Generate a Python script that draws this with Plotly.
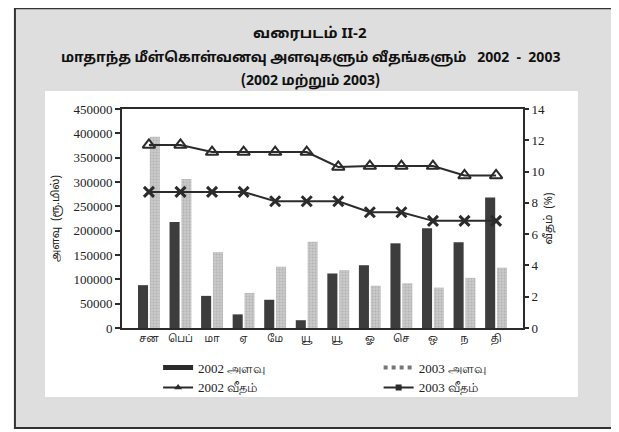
import plotly.graph_objects as go

months = ["சன", "பெப்", "மா", "ஏ", "மே", "யூ", "யூ ", "ஓ", "செ", "ஒ", "ந", "தி"]
vol_2002 = [88000, 218000, 66000, 28000, 58000, 16000, 112000, 129000, 174000, 205000, 176000, 268000]
vol_2003 = [393000, 306000, 156000, 72000, 126000, 177000, 119000, 87000, 92000, 83000, 103000, 124000]
rate_2002 = [11.7, 11.7, 11.25, 11.25, 11.25, 11.25, 10.3, 10.35, 10.35, 10.35, 9.75, 9.75]
rate_2003 = [8.7, 8.7, 8.7, 8.7, 8.1, 8.1, 8.1, 7.4, 7.4, 6.85, 6.85, 6.85]
left_ticks = list(range(0, 450001, 50000))
right_ticks = list(range(0, 15, 2))

SERIF = "Liberation Serif"
TAMIL = "Noto Sans Tamil, Noto Serif Tamil, Lohit Tamil, Latha, sans-serif"
DARK = "#2b2b2b"

fig = go.Figure()
fig.add_trace(go.Bar(x=months, y=vol_2002, marker=dict(color="#3d3d3d", line=dict(width=0)),
                     showlegend=False, name="2002 அளவு"))
fig.add_trace(go.Bar(x=months, y=vol_2003,
                     marker=dict(color="#c9c9c9", line=dict(width=0),
                                 pattern=dict(shape=".", fgcolor="#9c9c9c", size=3, solidity=0.3)),
                     showlegend=False, name="2003 அளவு"))
fig.add_trace(go.Scatter(x=months, y=rate_2002, yaxis="y2", mode="lines+markers",
                         line=dict(color=DARK, width=2),
                         marker=dict(symbol="triangle-up-open", size=11, color=DARK, line=dict(width=2)),
                         showlegend=False))
fig.add_trace(go.Scatter(x=months, y=rate_2003, yaxis="y2", mode="lines+markers",
                         line=dict(color=DARK, width=2),
                         marker=dict(symbol="x-thin-open", size=10, color=DARK, line=dict(width=3, color=DARK)),
                         showlegend=False))

# legend-only entries (line style keys as in the original)
fig.add_trace(go.Scatter(x=[None], y=[None], mode="lines", name="2002 அளவு", legend="legend",
                         line=dict(color=DARK, width=5)))
fig.add_trace(go.Scatter(x=[None], y=[None], yaxis="y2", mode="lines+markers", name="2002 வீதம்",
                         legend="legend", line=dict(color=DARK, width=2),
                         marker=dict(symbol="triangle-up", size=7, color=DARK)))
fig.add_trace(go.Scatter(x=[None], y=[None], mode="lines", name="2003 அளவு", legend="legend2",
                         line=dict(color="#777777", width=4, dash="dot")))
fig.add_trace(go.Scatter(x=[None], y=[None], yaxis="y2", mode="lines+markers", name="2003 வீதம்",
                         legend="legend2", line=dict(color=DARK, width=2),
                         marker=dict(symbol="square", size=6, color=DARK)))

shapes = [
    dict(type="rect", xref="paper", yref="paper", x0=-0.267, x1=1.224, y0=-0.457, y1=1.46,
         fillcolor="#dedede", line=dict(color="#333333", width=2), layer="below"),
    dict(type="rect", xref="paper", yref="paper", x0=-0.192, x1=1.137, y0=-0.315, y1=1.082,
         fillcolor="white", line=dict(width=0), layer="below"),
]

annotations = [
    dict(text="<b>வரைபடம் II-2</b>", x=0.47, y=1.34, xref="paper", yref="paper", showarrow=False,
         yanchor="middle", font=dict(size=15, color="#111", family=TAMIL)),
    dict(text="<b>மாதாந்த மீள்கொள்வனவு அளவுகளும் வீதங்களும்   2002  -  2003</b>", x=0.47, y=1.235,
         yanchor="middle", xref="paper", yref="paper", showarrow=False,
         font=dict(size=14, color="#111", family=TAMIL)),
    dict(text="<b>(2002 மற்றும் 2003)</b>", x=0.47, y=1.128, xref="paper", yref="paper", showarrow=False,
         yanchor="middle", font=dict(size=14, color="#111", family=TAMIL)),
]

legend_common = dict(orientation="v", yanchor="top", xanchor="left", bgcolor="rgba(0,0,0,0)",
                     font=dict(family=SERIF, size=13, color="#222"), itemwidth=30,
                     tracegroupgap=0)

# the page body adds an 8px margin, so the figure is sized to fit inside the window
fig.update_layout(
    width=611, height=424,
    margin=dict(l=114, r=96, t=101, b=104, autoexpand=False),
    paper_bgcolor="white", plot_bgcolor="white",
    barmode="group", bargap=0.25, bargroupgap=0.15,
    shapes=shapes, annotations=annotations,
    font=dict(family=SERIF, color="#222", size=13),
    xaxis=dict(showline=True, linecolor=DARK, linewidth=2, mirror=True, ticks="",
               tickfont=dict(family=TAMIL, size=10, color="#222"), showgrid=False),
    yaxis=dict(range=[0, 450000], tickvals=left_ticks, ticktext=[str(v) for v in left_ticks],
               tickfont=dict(family=SERIF, size=13, color="#222"),
               showline=True, linecolor=DARK, linewidth=2, ticks="outside", ticklen=5,
               tickcolor=DARK, tickwidth=2, showgrid=False, zeroline=False,
               title=dict(text="அளவு  (ரூ.மில்)", font=dict(family=TAMIL, size=11), standoff=12)),
    yaxis2=dict(range=[0, 14], tickvals=right_ticks, overlaying="y", side="right",
                tickfont=dict(family=SERIF, size=13, color="#222"),
                showline=True, linecolor=DARK, linewidth=2, ticks="outside", ticklen=4,
                tickcolor=DARK, tickwidth=2, showgrid=False, zeroline=False,
                title=dict(text="வீதம்  (%)", font=dict(family=TAMIL, size=11), standoff=0)),
    legend=dict(x=0.09, y=-0.112, **legend_common),
    legend2=dict(x=0.64, y=-0.112, **legend_common),
)

fig.write_html("out.html")
